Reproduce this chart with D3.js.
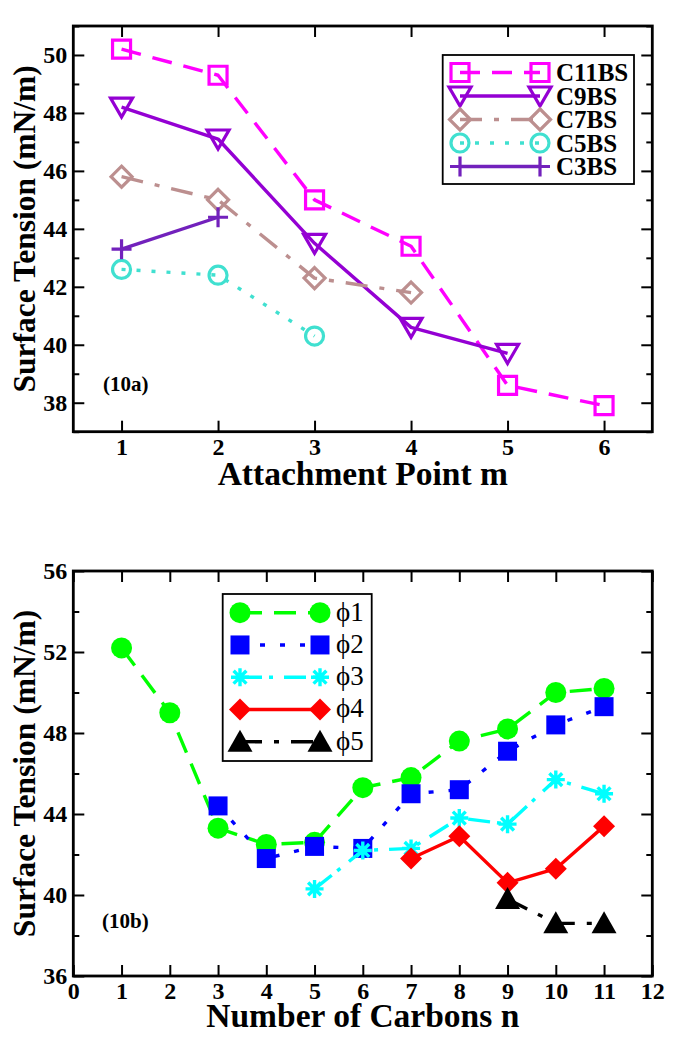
<!DOCTYPE html>
<html>
<head>
<meta charset="utf-8">
<script src="https://cdn.jsdelivr.net/npm/d3@7"></script>
<style>
  html, body { margin: 0; padding: 0; background: #fff; }
  svg { display: block; }
  text { font-family: "Liberation Serif", "Times New Roman", serif; }
</style>
</head>
<body>
<svg id="chart" width="681" height="1050"></svg>
<script>
// ---------- Data: panel (10a) ----------
const seriesA = ["C11BS", "C9BS", "C7BS", "C5BS", "C3BS"];
const mC11 = [1, 2, 3, 4, 5, 6];
const tC11 = [50.2, 49.3, 45.0, 43.4, 38.6, 37.9];
const mC9 = [1, 2, 3, 4, 5];
const tC9 = [48.2, 47.1, 43.5, 40.6, 39.7];
const mC7 = [1, 2, 3, 4];
const tC7 = [45.8, 45.0, 42.3, 41.8];
const mC5 = [1, 2, 3];
const tC5 = [42.6, 42.4, 40.3];
const mC3 = [1, 2];
const tC3 = [43.3, 44.4];
const xTicksA = [1, 2, 3, 4, 5, 6];
const yTicksA = [38, 40, 42, 44, 46, 48, 50];
const yMinorA = [37, 39, 41, 43, 45, 47, 49, 51];

// ---------- Data: panel (10b) ----------
const seriesB = ["\u03D51", "\u03D52", "\u03D53", "\u03D54", "\u03D55"];
const n1 = [1, 2, 3, 4, 5, 6, 7, 8, 9, 10, 11];
const t1 = [52.2, 49.0, 43.3, 42.5, 42.6, 45.3, 45.8, 47.6, 48.2, 50.0, 50.2];
const n2 = [3, 4, 5, 6, 7, 8, 9, 10, 11];
const t2 = [44.4, 41.8, 42.4, 42.3, 45.0, 45.2, 47.1, 48.4, 49.3];
const n3 = [5, 6, 7, 8, 9, 10, 11];
const t3 = [40.3, 42.2, 42.3, 43.8, 43.5, 45.7, 45.0];
const n4 = [7, 8, 9, 10, 11];
const t4 = [41.8, 42.9, 40.6, 41.3, 43.4];
const n5 = [9, 10, 11];
const t5 = [39.8, 38.6, 38.6];
const xTicksB = [0, 1, 2, 3, 4, 5, 6, 7, 8, 9, 10, 11, 12];
const yTicksB = [36, 40, 44, 48, 52, 56];
const yMinorB = [38, 42, 46, 50, 54];

// ---------- Styles ----------
const stylesA = [
  {color: "#ff00ff", dash: "20,12", sym: "sq"},
  {color: "#9400d3", dash: null, sym: "tridown"},
  {color: "#bc8f8f", dash: "22,12,5,12", sym: "diamond"},
  {color: "#40e0d0", dash: "4,11", sym: "circle"},
  {color: "#7221bc", dash: null, sym: "plus"}
];
const stylesB = [
  {color: "#00ff00", dash: "22,12", sym: "fcircle"},
  {color: "#0000ff", dash: "5,15", sym: "fsq"},
  {color: "#00ffff", dash: "22,7,4,11", sym: "star"},
  {color: "#ff0000", dash: null, sym: "fdiamond"},
  {color: "#000000", dash: "22,12,5,12", sym: "ftri"}
];

const symPath = {
  sq: "M-9,-9H9V9H-9Z",
  tridown: "M-11,-9L11,-9L0,10Z",
  diamond: "M0,-10.5L10.5,0L0,10.5L-10.5,0Z",
  circle: "M9,0A9,9 0 1,1 -9,0A9,9 0 1,1 9,0Z",
  plus: "M-10,0H10M0,-10V10",
  fcircle: "M10.5,0A10.5,10.5 0 1,1 -10.5,0A10.5,10.5 0 1,1 10.5,0Z",
  fsq: "M-9.5,-9.5H9.5V9.5H-9.5Z",
  star: "M-9,0H9M0,-9V9M-6.4,-6.4L6.4,6.4M-6.4,6.4L6.4,-6.4",
  fdiamond: "M0,-11L11,0L0,11L-11,0Z",
  ftri: "M0,-12L12.5,10L-12.5,10Z"
};
const filled = {fcircle: true, fsq: true, fdiamond: true, ftri: true};

const svg = d3.select("#chart");

function drawMarker(g, sym, color, x, y) {
  const p = g.append("path").attr("d", symPath[sym])
    .attr("transform", `translate(${x},${y})`);
  if (filled[sym]) {
    p.attr("fill", color).attr("stroke", "none");
  } else {
    p.attr("fill", "none").attr("stroke", color).attr("stroke-width", sym === "star" ? 3.4 : 3.2);
  }
}

function panel(opts) {
  const {x, y, xTicks, yTicks, yMinor, series, styles, legend, label, xTitle, yTitle} = opts;
  const g = svg.append("g");
  const [x0, x1] = x.range();
  const [y0, y1] = y.range(); // y0 bottom, y1 top

  const fmt = d3.format("d");
  const axB = g.append("g").attr("transform", `translate(0,${y0})`)
    .call(d3.axisBottom(x).tickValues(xTicks).tickFormat(fmt).tickSizeInner(-11).tickSizeOuter(0).tickPadding(6));
  const axT = g.append("g").attr("transform", `translate(0,${y1})`)
    .call(d3.axisTop(x).tickValues(xTicks).tickFormat("").tickSizeInner(-11).tickSizeOuter(0));
  const axL = g.append("g").attr("transform", `translate(${x0},0)`)
    .call(d3.axisLeft(y).tickValues(yTicks).tickFormat(fmt).tickSizeInner(-11).tickSizeOuter(0).tickPadding(6));
  const axR = g.append("g").attr("transform", `translate(${x1},0)`)
    .call(d3.axisRight(y).tickValues(yTicks).tickFormat("").tickSizeInner(-11).tickSizeOuter(0));
  const mL = g.append("g").attr("transform", `translate(${x0},0)`)
    .call(d3.axisLeft(y).tickValues(yMinor).tickFormat("").tickSizeInner(-6).tickSizeOuter(0));
  const mR = g.append("g").attr("transform", `translate(${x1},0)`)
    .call(d3.axisRight(y).tickValues(yMinor).tickFormat("").tickSizeInner(-6).tickSizeOuter(0));
  [axB, axT, axL, axR, mL, mR].forEach(a => {
    a.select(".domain").remove();
    a.selectAll(".tick line").attr("stroke", "#000").attr("stroke-width", 2);
    a.selectAll(".tick text").attr("fill", "#000")
      .style("font-family", '"Liberation Serif", serif')
      .style("font-size", "24px").style("font-weight", "bold");
  });

  g.append("rect").attr("x", x0).attr("y", y1).attr("width", x1 - x0).attr("height", y0 - y1)
    .attr("fill", "none").attr("stroke", "#000").attr("stroke-width", 2.8);

  const line = d3.line().x(d => x(d[0])).y(d => y(d[1]));
  series.forEach((s, i) => {
    const st = styles[i];
    const pts = s.xs.map((v, k) => [v, s.ys[k]]);
    const sg = g.append("g");
    sg.append("path").attr("d", line(pts)).attr("fill", "none")
      .attr("stroke", st.color).attr("stroke-width", 3.4)
      .attr("stroke-dasharray", st.dash).attr("stroke-linejoin", "round");
    pts.forEach(p => drawMarker(sg, st.sym, st.color, x(p[0]), y(p[1])));
  });

  const lg = g.append("g");
  lg.append("rect").attr("x", legend.x0).attr("y", legend.y0)
    .attr("width", legend.x1 - legend.x0).attr("height", legend.y1 - legend.y0)
    .attr("fill", "#fff").attr("stroke", "#000").attr("stroke-width", 1.8);
  series.forEach((s, i) => {
    const st = styles[i];
    const ry = legend.row0 + i * legend.step;
    lg.append("line").attr("x1", legend.mx0).attr("x2", legend.mx1).attr("y1", ry).attr("y2", ry)
      .attr("stroke", st.color).attr("stroke-width", 3.4).attr("stroke-dasharray", st.dash);
    drawMarker(lg, st.sym, st.color, legend.mx0, ry);
    drawMarker(lg, st.sym, st.color, legend.mx1, ry);
    lg.append("text").attr("x", legend.tx).attr("y", ry + legend.base)
      .style("font-size", legend.fs).style("font-weight", legend.fw)
      .attr("fill", "#000").text(s.name);
  });

  g.append("text").attr("x", label.x).attr("y", label.y)
    .style("font-size", "21px").style("font-weight", "bold").text(label.text);

  g.append("text").attr("x", (x0 + x1) / 2).attr("y", xTitle.y).attr("text-anchor", "middle")
    .style("font-size", "33.5px").style("font-weight", "bold").text(xTitle.text);
  g.append("text").attr("transform", `translate(${yTitle.x},${(y0 + y1) / 2}) rotate(-90)`)
    .attr("text-anchor", "middle")
    .style("font-size", "31.5px").style("font-weight", "bold").text(yTitle.text);
}

// Panel (10a)
const xA = d3.scaleLinear().domain([0.5, 6.5]).range([73.3, 652.3]);
const yA = d3.scaleLinear().domain([37, 51]).range([431.7, 26]);
panel({
  x: xA, y: yA, xTicks: xTicksA, yTicks: yTicksA, yMinor: yMinorA,
  series: [
    {name: seriesA[0], xs: mC11, ys: tC11},
    {name: seriesA[1], xs: mC9, ys: tC9},
    {name: seriesA[2], xs: mC7, ys: tC7},
    {name: seriesA[3], xs: mC5, ys: tC5},
    {name: seriesA[4], xs: mC3, ys: tC3}
  ],
  styles: stylesA,
  legend: {x0: 442.7, x1: 634, y0: 55, y1: 184, row0: 72.5, step: 23.5, mx0: 460, mx1: 540, tx: 556, base: 8.5, fs: "25px", fw: "bold"},
  label: {x: 103, y: 391, text: "(10a)"},
  xTitle: {y: 485, text: "Attachment Point m"},
  yTitle: {x: 35, text: "Surface Tension (mN/m)"}
});

// Panel (10b)
const xB = d3.scaleLinear().domain([0, 12]).range([73.3, 652.3]);
const yB = d3.scaleLinear().domain([36, 56]).range([976, 571]);
panel({
  x: xB, y: yB, xTicks: xTicksB, yTicks: yTicksB, yMinor: yMinorB,
  series: [
    {name: seriesB[0], xs: n1, ys: t1},
    {name: seriesB[1], xs: n2, ys: t2},
    {name: seriesB[2], xs: n3, ys: t3},
    {name: seriesB[3], xs: n4, ys: t4},
    {name: seriesB[4], xs: n5, ys: t5}
  ],
  styles: stylesB,
  legend: {x0: 222.7, x1: 371.7, y0: 594, y1: 761, row0: 612.7, step: 32.25, mx0: 240, mx1: 320, tx: 336, base: 8, fs: "27px", fw: "normal"},
  label: {x: 102, y: 928, text: "(10b)"},
  xTitle: {y: 1027, text: "Number of Carbons n"},
  yTitle: {x: 35, text: "Surface Tension (mN/m)"}
});
</script>
</body>
</html>
